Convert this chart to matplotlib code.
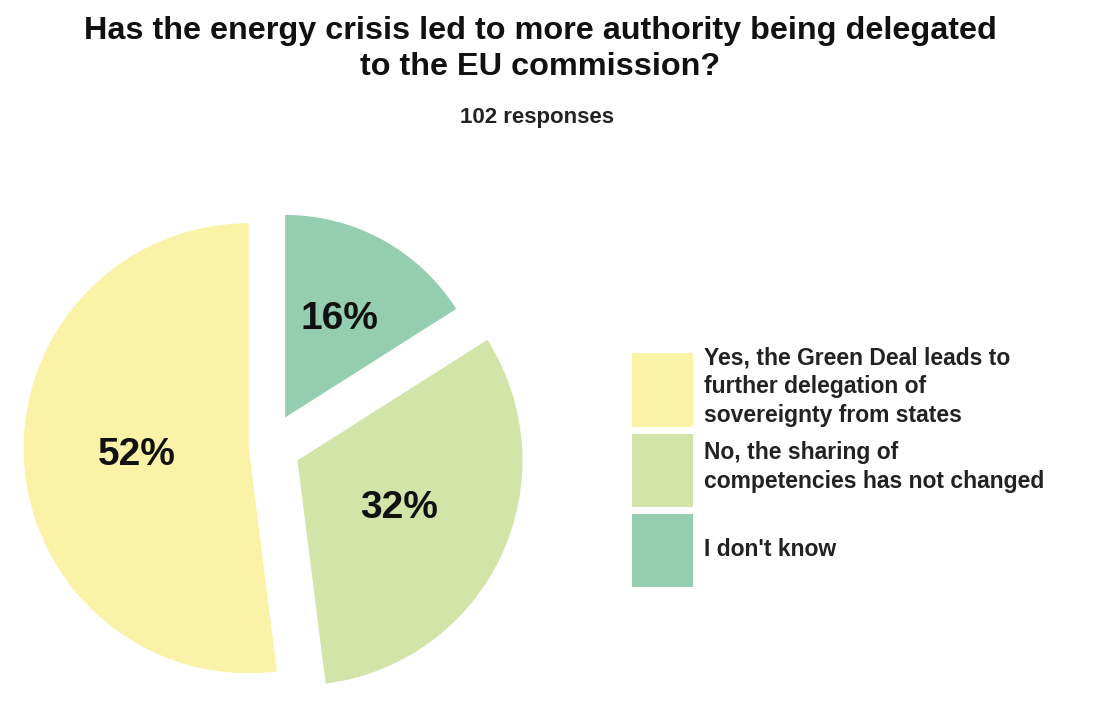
import matplotlib.pyplot as plt
from matplotlib.patches import Patch

######################################################################
# Data
title = "Has the energy crisis led to more authority being delegated\nto the EU commission?"
subtitle = "102 responses"

# pie order (clockwise from the top)
answers = ["I don't know",
           "No, the sharing of\ncompetencies has not changed",
           "Yes, the Green Deal leads to\nfurther delegation of\nsovereignty from states"]
shares = [16, 32, 52]
colors = ["#94CDB0", "#D3E4A9", "#FAF2A6"]
explode = [0.15, 0.14, 0.09]

# legend order
legend_order = [2, 1, 0]

plt.rcParams['font.family'] = ['Liberation Sans', 'DejaVu Sans']

######################################################################
# Figure
fig = plt.figure(figsize=(10.94, 7.10), dpi=100)
ax = fig.add_axes([-0.0215, -0.0415, 0.5347, 0.8239])

wedges, texts, autotexts = ax.pie(shares, colors=colors, explode=explode,
                                  startangle=90, counterclock=False,
                                  autopct="%d%%", pctdistance=0.5,
                                  textprops=dict(fontsize=28, fontweight="bold", color="#111111"))
# the small slice is drawn a bit smaller in the original
wedges[0].set_radius(0.9)

ax.set_xlim(-1.3, 1.3)
ax.set_ylim(-1.3, 1.3)
ax.set_aspect("equal")
ax.axis("off")

fig.text(0.4936, 1 - 16 / 710, title, ha="center", va="top", fontsize=23.3,
         fontweight="bold", color="#111111", linespacing=1.26)
fig.text(0.491, 1 - 117 / 710, subtitle, ha="center", va="center", fontsize=16,
         fontweight="bold", color="#222222")

######################################################################
# Legend with big square patches
fs = 16.5
handles = [Patch(facecolor=colors[i], edgecolor="none") for i in legend_order]
labels = [answers[i] for i in legend_order]
leg = fig.legend(handles, labels, loc="upper left", bbox_to_anchor=(632 / 1094, 1 - 347 / 710),
                 frameon=False, prop=dict(size=fs, weight="bold"), handlelength=2.65,
                 handleheight=4.55, handletextpad=0.5, labelspacing=0.3, borderpad=0,
                 borderaxespad=0, labelcolor="#222222")
for t in leg.get_texts():
    t.set_linespacing(1.3)

fig.savefig("out.png", dpi=100, facecolor="white")
